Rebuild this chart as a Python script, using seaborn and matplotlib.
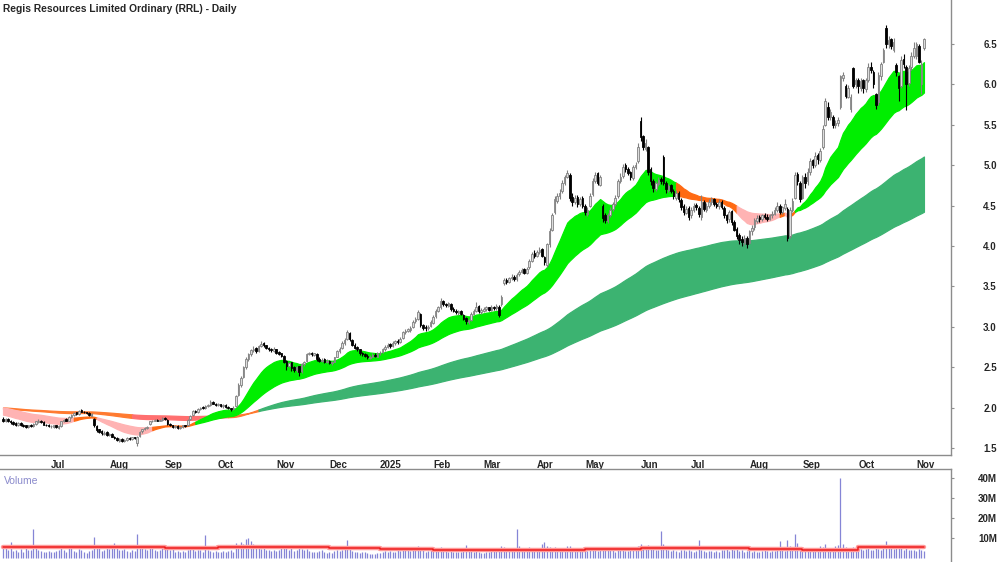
import numpy as np
import pandas as pd
import matplotlib
matplotlib.use("Agg")
import matplotlib.pyplot as plt
import seaborn as sns

# ---------------- data ----------------
title = "Regis Resources Limited Ordinary (RRL) - Daily"
start_date = "2024-06-03"
end_date = "2025-11-06"
asx_holidays = ["2024-06-10", "2024-12-25", "2024-12-26", "2025-01-01", "2025-01-27",
                "2025-04-18", "2025-04-21", "2025-04-25", "2025-06-09"]

opens = [
 1.86,1.83,1.86,1.84,1.82,1.81,1.78,1.81,1.79,1.78,1.76,1.79,1.77,1.80,1.82,1.84,1.82,1.79,1.79,
 1.77,1.76,1.78,1.75,1.77,1.83,1.86,1.84,1.88,1.91,1.94,1.92,1.97,1.95,1.94,1.93,1.90,1.86,1.77,1.73,1.71,1.67,1.70,
 1.66,1.67,1.64,1.62,1.59,1.61,1.59,1.60,1.62,1.61,1.63,1.56,1.65,1.71,1.73,1.75,1.80,1.83,1.84,1.85,1.84,1.85,
 1.87,1.85,1.80,1.78,1.76,1.77,1.75,1.76,1.78,1.78,1.86,1.91,1.96,1.94,1.98,2.01,1.99,2.02,2.03,2.07,2.05,
 2.03,2.04,2.02,2.03,2.01,1.99,1.98,2.02,2.16,2.28,2.38,2.50,2.60,2.66,2.71,2.74,2.70,2.76,2.80,2.77,2.74,2.72,2.70,
 2.72,2.69,2.67,2.64,2.58,2.51,2.56,2.50,2.46,2.51,2.45,2.54,2.58,2.66,2.68,2.65,2.66,2.60,2.58,2.60,2.56,
 2.58,2.55,2.57,2.63,2.70,2.74,2.80,2.85,2.92,2.84,2.78,2.75,2.72,2.67,2.66,2.64,2.61,2.63,2.65,2.63,
 2.67,2.69,2.72,2.75,2.79,2.76,2.80,2.83,2.81,2.86,2.93,2.95,2.96,3.00,3.07,3.10,3.16,3.02,3.00,2.98,3.01,
 3.05,3.13,3.20,3.24,3.32,3.28,3.26,3.28,3.22,3.20,3.17,3.20,3.15,3.11,3.06,3.09,3.16,3.20,3.26,3.18,
 3.20,3.22,3.24,3.21,3.25,3.23,3.25,3.28,3.54,3.58,3.56,3.60,3.62,3.59,3.65,3.68,3.71,3.67,3.74,3.82,3.91,
 3.88,3.92,3.96,3.86,3.76,4.02,4.20,4.42,4.56,4.62,4.68,4.78,4.86,4.88,4.61,4.54,4.61,4.52,4.59,
 4.50,4.40,4.50,4.64,4.80,4.90,4.76,4.50,4.38,4.31,4.38,4.46,4.52,4.62,4.80,4.87,5.00,4.95,4.91,4.84,4.98,5.05,
 5.55,5.36,5.20,5.22,4.95,4.80,4.70,4.77,4.83,5.10,4.78,4.69,4.75,4.68,4.60,4.66,4.57,4.50,4.41,4.47,
 4.38,4.44,4.51,4.47,4.36,4.55,4.45,4.50,4.54,4.58,4.52,4.49,4.55,4.47,4.38,4.33,4.43,4.30,4.21,4.13,4.09,4.04,4.10,
 4.04,4.18,4.23,4.31,4.36,4.33,4.38,4.36,4.34,4.38,4.40,4.44,4.50,4.42,4.47,4.46,4.12,4.44,4.60,4.89,4.78,
 4.60,4.86,4.80,4.92,5.06,5.00,5.13,5.06,5.22,5.50,5.72,5.60,5.60,5.50,5.52,5.72,6.08,5.98,5.85,5.70,6.20,6.00,
 6.05,5.96,6.05,5.94,6.06,6.22,6.15,5.88,5.78,6.10,6.28,6.70,6.50,6.56,6.42,6.24,6.10,5.98,6.32,6.22,6.02,6.22,6.35,
 6.35,6.48,6.00,6.45,
]
highs = [
 1.88,1.87,1.87,1.85,1.83,1.82,1.82,1.82,1.80,1.79,1.79,1.80,1.81,1.84,1.86,1.85,1.83,1.80,1.80,
 1.79,1.79,1.79,1.78,1.84,1.86,1.87,1.89,1.92,1.94,1.95,1.97,1.98,1.96,1.95,1.94,1.93,1.87,1.78,1.74,1.72,1.71,1.71,
 1.69,1.68,1.65,1.63,1.62,1.62,1.61,1.63,1.63,1.64,1.64,1.65,1.71,1.74,1.76,1.77,1.84,1.85,1.86,1.86,1.86,1.88,
 1.88,1.86,1.81,1.79,1.78,1.78,1.77,1.79,1.79,1.86,1.91,1.97,1.97,1.99,2.01,2.02,2.03,2.05,2.09,2.08,2.06,
 2.06,2.05,2.04,2.04,2.02,2.00,2.02,2.16,2.30,2.39,2.52,2.62,2.68,2.73,2.76,2.75,2.78,2.82,2.81,2.78,2.75,2.74,2.75,
 2.73,2.70,2.68,2.65,2.59,2.57,2.57,2.52,2.52,2.52,2.55,2.58,2.67,2.69,2.69,2.68,2.67,2.62,2.61,2.61,2.60,
 2.59,2.58,2.63,2.71,2.75,2.82,2.86,2.96,2.93,2.85,2.80,2.76,2.73,2.69,2.68,2.66,2.65,2.67,2.67,2.69,
 2.70,2.74,2.77,2.80,2.80,2.82,2.84,2.85,2.87,2.95,2.97,2.99,3.01,3.08,3.12,3.21,3.17,3.04,3.02,3.02,3.08,
 3.14,3.22,3.26,3.36,3.33,3.30,3.31,3.30,3.24,3.22,3.21,3.21,3.16,3.12,3.10,3.18,3.22,3.31,3.27,3.23,
 3.24,3.26,3.25,3.27,3.26,3.28,3.27,3.39,3.60,3.60,3.62,3.65,3.64,3.66,3.70,3.73,3.73,3.74,3.84,3.93,3.95,
 3.95,3.99,3.98,3.88,4.04,4.22,4.41,4.62,4.66,4.70,4.82,4.88,4.94,4.90,4.66,4.63,4.63,4.61,4.62,
 4.52,4.48,4.66,4.84,4.92,4.92,4.88,4.52,4.41,4.41,4.48,4.55,4.63,4.83,4.90,5.01,5.03,4.98,4.93,5.00,5.04,5.27,
 5.60,5.38,5.33,5.24,4.98,4.83,4.80,4.86,4.86,5.13,4.80,4.77,4.77,4.70,4.69,4.68,4.59,4.52,4.50,4.49,
 4.48,4.53,4.53,4.50,4.63,4.57,4.53,4.58,4.61,4.60,4.55,4.58,4.57,4.49,4.40,4.45,4.45,4.32,4.23,4.16,4.12,4.14,4.12,
 4.20,4.26,4.35,4.38,4.38,4.40,4.41,4.39,4.40,4.43,4.48,4.55,4.52,4.50,4.58,4.48,4.48,4.59,4.91,4.92,4.80,
 4.88,4.90,4.96,5.09,5.08,5.16,5.15,5.21,5.50,5.83,5.78,5.70,5.62,5.56,5.60,6.12,6.15,6.00,5.99,5.88,6.22,6.08,
 6.08,6.08,6.07,6.08,6.26,6.28,6.18,5.90,6.15,6.28,6.45,6.74,6.60,6.58,6.57,6.26,6.12,6.35,6.38,6.24,6.24,6.40,6.52,
 6.53,6.50,6.30,6.58,
]
lows = [
 1.82,1.82,1.82,1.80,1.79,1.77,1.77,1.77,1.76,1.75,1.75,1.76,1.76,1.79,1.81,1.81,1.78,1.77,1.76,
 1.75,1.75,1.75,1.74,1.76,1.82,1.83,1.83,1.87,1.90,1.91,1.91,1.94,1.93,1.92,1.90,1.89,1.76,1.70,1.68,1.66,1.66,1.65,
 1.65,1.63,1.61,1.59,1.58,1.58,1.58,1.59,1.60,1.60,1.61,1.53,1.64,1.69,1.72,1.74,1.79,1.82,1.83,1.83,1.83,1.84,
 1.85,1.79,1.77,1.75,1.75,1.74,1.74,1.75,1.76,1.77,1.85,1.90,1.93,1.93,1.97,1.98,1.98,2.01,2.02,2.04,2.02,
 2.02,2.01,2.00,2.00,1.98,1.96,1.97,2.01,2.14,2.26,2.36,2.48,2.58,2.64,2.69,2.68,2.69,2.75,2.75,2.72,2.70,2.69,2.69,
 2.66,2.65,2.62,2.55,2.47,2.50,2.45,2.44,2.44,2.39,2.43,2.52,2.57,2.65,2.64,2.64,2.58,2.56,2.56,2.55,2.55,
 2.54,2.53,2.56,2.62,2.68,2.72,2.78,2.84,2.83,2.76,2.72,2.70,2.65,2.64,2.62,2.60,2.60,2.62,2.62,2.62,
 2.65,2.67,2.70,2.74,2.74,2.75,2.78,2.79,2.80,2.85,2.91,2.93,2.94,2.99,3.05,3.08,3.00,2.96,2.95,2.96,3.00,
 3.03,3.11,3.18,3.22,3.26,3.25,3.24,3.20,3.18,3.16,3.15,3.14,3.08,3.04,3.04,3.07,3.14,3.18,3.17,3.16,
 3.18,3.20,3.19,3.20,3.21,3.21,3.12,3.26,3.52,3.53,3.54,3.58,3.57,3.57,3.63,3.66,3.65,3.65,3.72,3.80,3.85,
 3.86,3.90,3.86,3.76,3.74,3.99,4.18,4.40,4.53,4.58,4.66,4.75,4.84,4.56,4.50,4.52,4.48,4.49,4.47,
 4.38,4.37,4.48,4.62,4.78,4.76,4.74,4.30,4.28,4.28,4.36,4.43,4.50,4.60,4.78,4.84,4.92,4.88,4.82,4.82,4.95,5.03,
 5.30,5.19,5.17,4.88,4.76,4.67,4.68,4.74,4.77,4.75,4.66,4.67,4.65,4.58,4.57,4.55,4.45,4.38,4.39,4.32,
 4.35,4.42,4.45,4.36,4.32,4.43,4.42,4.47,4.51,4.50,4.47,4.46,4.46,4.35,4.28,4.30,4.26,4.18,4.09,4.02,4.00,4.01,3.98,
 4.02,4.14,4.20,4.29,4.30,4.31,4.33,4.31,4.32,4.35,4.38,4.42,4.39,4.40,4.45,4.06,4.10,4.42,4.58,4.76,4.54,
 4.58,4.72,4.76,4.88,4.96,4.98,5.02,5.04,5.20,5.48,5.56,5.56,5.46,5.46,5.48,5.70,6.04,5.83,5.83,5.66,5.95,5.96,
 5.90,5.92,5.90,5.91,6.03,6.14,5.95,5.70,5.75,6.06,6.26,6.45,6.45,6.44,6.40,6.10,5.80,5.95,6.20,5.68,5.98,6.18,6.33,
 6.32,6.26,5.88,6.43,
]
closes = [
 1.84,1.86,1.83,1.82,1.80,1.79,1.81,1.78,1.77,1.76,1.78,1.77,1.80,1.83,1.84,1.82,1.79,1.78,1.77,
 1.77,1.78,1.76,1.77,1.83,1.85,1.84,1.88,1.91,1.93,1.92,1.96,1.95,1.94,1.93,1.91,1.92,1.78,1.72,1.70,1.68,1.69,1.66,
 1.67,1.64,1.62,1.60,1.61,1.59,1.60,1.62,1.61,1.63,1.62,1.64,1.70,1.73,1.75,1.76,1.83,1.84,1.85,1.84,1.85,1.87,
 1.86,1.80,1.78,1.76,1.77,1.75,1.76,1.78,1.77,1.85,1.90,1.96,1.94,1.98,2.00,1.99,2.02,2.03,2.07,2.05,2.03,
 2.04,2.02,2.03,2.01,1.99,1.98,2.00,2.14,2.28,2.36,2.50,2.60,2.66,2.71,2.73,2.70,2.76,2.79,2.77,2.74,2.72,2.71,2.73,
 2.68,2.66,2.64,2.57,2.52,2.55,2.49,2.46,2.50,2.44,2.54,2.56,2.66,2.67,2.66,2.67,2.60,2.58,2.59,2.57,2.58,
 2.55,2.56,2.62,2.70,2.73,2.80,2.84,2.93,2.85,2.78,2.74,2.72,2.67,2.66,2.64,2.62,2.63,2.65,2.64,2.67,
 2.68,2.72,2.75,2.78,2.76,2.80,2.82,2.81,2.85,2.93,2.95,2.97,2.99,3.06,3.10,3.18,3.02,2.99,2.98,3.00,3.06,
 3.12,3.20,3.24,3.32,3.28,3.27,3.29,3.22,3.20,3.18,3.19,3.16,3.10,3.07,3.08,3.16,3.20,3.25,3.19,3.21,
 3.22,3.24,3.21,3.25,3.23,3.26,3.15,3.37,3.58,3.56,3.60,3.62,3.59,3.64,3.68,3.70,3.67,3.72,3.82,3.90,3.88,
 3.92,3.95,3.88,3.80,4.02,4.18,4.38,4.58,4.62,4.66,4.78,4.85,4.90,4.60,4.55,4.60,4.52,4.58,4.50,
 4.42,4.45,4.62,4.80,4.88,4.78,4.85,4.35,4.32,4.38,4.45,4.52,4.60,4.80,4.86,4.98,4.95,4.90,4.85,4.98,5.00,5.22,
 5.35,5.22,5.28,4.92,4.80,4.72,4.78,4.82,4.80,4.78,4.70,4.74,4.68,4.62,4.66,4.58,4.48,4.42,4.46,4.36,
 4.45,4.50,4.48,4.40,4.55,4.46,4.50,4.55,4.58,4.52,4.50,4.55,4.48,4.38,4.32,4.42,4.30,4.20,4.12,4.08,4.05,4.10,4.03,
 4.18,4.22,4.32,4.35,4.33,4.38,4.36,4.34,4.38,4.40,4.45,4.50,4.42,4.48,4.52,4.10,4.45,4.56,4.88,4.80,4.58,
 4.85,4.78,4.92,5.05,5.00,5.12,5.08,5.18,5.45,5.80,5.60,5.66,5.50,5.52,5.56,6.10,6.12,5.86,5.95,5.85,5.98,6.05,
 5.98,6.04,5.95,6.05,6.22,6.18,6.00,5.75,6.12,6.25,6.42,6.50,6.55,6.48,6.52,6.15,5.95,6.30,6.25,6.00,6.20,6.35,6.45,
 6.50,6.28,6.25,6.56,
]
volume_m = [
 5.5,6.0,4.2,8.0,3.5,4.0,3.2,4.5,3.0,5.0,3.8,4.2,14.5,6.5,4.0,3.5,3.0,2.8,3.6,
 3.2,2.8,3.5,4.0,5.5,4.2,3.0,4.8,5.2,3.6,3.1,4.5,3.8,3.0,2.6,3.3,4.0,10.5,6.0,4.8,3.5,4.2,5.0,
 4.5,6.5,7.5,5.0,4.2,3.8,4.6,3.5,3.0,4.1,3.6,12.0,6.2,5.0,4.4,3.8,5.5,4.8,4.0,3.6,4.2,5.1,
 4.4,5.0,3.9,4.5,3.2,3.6,3.0,3.4,2.8,4.0,5.8,4.6,3.5,4.2,3.8,3.1,11.5,4.0,3.5,3.0,3.3,
 2.8,3.2,3.5,2.9,3.6,4.0,3.1,7.5,6.5,8.0,7.0,9.5,10.0,8.5,6.8,5.5,6.0,4.5,5.2,3.9,4.1,3.5,3.8,
 3.6,4.0,5.5,6.2,4.8,4.0,5.0,3.6,4.2,5.5,4.4,3.8,4.6,3.5,3.0,2.8,3.2,3.6,4.1,3.0,2.7,
 3.0,2.6,3.4,4.0,3.6,4.2,5.0,8.8,4.6,3.5,3.2,3.0,2.5,2.8,3.1,2.4,1.8,2.2,2.0,2.6,
 2.5,3.0,3.4,2.8,3.6,3.2,2.9,4.0,3.5,4.8,5.6,4.2,3.6,4.5,5.0,5.8,4.4,3.8,3.2,3.5,4.0,
 4.6,3.8,4.2,5.5,3.9,3.4,3.0,3.6,3.2,2.8,3.1,2.9,4.0,6.5,3.8,3.4,2.9,3.3,3.0,2.6,
 2.5,2.8,3.2,3.8,4.1,3.6,4.5,6.0,5.5,4.2,3.8,5.0,4.0,14.5,6.0,4.5,3.5,3.8,5.5,4.6,4.0,
 4.4,5.0,6.8,7.8,6.2,5.5,4.8,5.6,4.2,3.9,5.2,4.5,6.0,5.8,4.4,3.8,4.6,4.0,3.5,
 4.2,3.6,4.5,5.0,4.0,3.5,3.8,5.2,4.4,3.9,4.6,3.8,3.2,4.5,3.9,4.2,3.6,3.3,3.8,4.4,5.0,5.8,
 7.2,6.0,5.0,6.4,5.5,4.8,4.2,4.0,13.5,6.8,4.5,3.8,3.5,4.0,3.6,3.2,3.9,4.2,3.4,3.8,
 3.5,3.0,3.6,8.8,4.0,3.4,3.1,3.6,3.3,2.9,3.5,3.2,3.8,4.2,5.0,3.6,4.4,3.8,4.6,3.4,3.9,3.1,3.6,
 3.8,3.2,3.6,3.0,2.8,3.5,4.0,3.3,3.1,3.6,3.4,4.0,8.5,3.8,3.5,9.0,6.0,4.8,12.0,7.5,5.6,
 4.6,4.0,5.0,4.4,3.8,4.5,5.2,6.0,5.5,6.8,5.0,4.6,4.2,5.8,6.6,40.0,7.2,5.5,4.8,5.0,5.4,4.4,
 4.2,4.6,3.9,4.4,5.0,4.1,3.8,5.5,4.6,4.2,5.0,8.6,6.2,5.0,4.4,5.8,6.6,4.8,4.2,5.4,4.0,3.8,4.2,
 3.6,4.4,3.8,3.4,
]
# average volume per calendar month (Jun 2024 .. Nov 2025), millions
volume_avg_month = [5.6, 5.6, 5.4, 5.0, 5.4, 5.4, 5.1, 4.5, 4.1, 3.9, 4.1, 4.5, 4.9, 4.9, 4.5, 4.1, 5.4, 5.6]

# moving-average ribbons: periods and their values just before the first bar
short_periods = [18, 22, 27, 32, 38, 48]
short_seeds = [1.92, 1.95, 1.97, 1.99, 2.00, 2.01]
long_periods = [135, 150, 170, 190, 215, 250]
long_seeds = [1.995, 2.005, 1.99, 2.0, 1.985, 1.99]

price_ticks = [1.5, 2.0, 2.5, 3.0, 3.5, 4.0, 4.5, 5.0, 5.5, 6.0, 6.5]
volume_ticks = [10, 20, 30, 40]
volume_tick_labels = ["10M", "20M", "30M", "40M"]

# ---------------- build ----------------
dates = pd.bdate_range(start_date, end_date)
dates = dates[~dates.isin(pd.to_datetime(asx_holidays))]
n = len(dates)
for name, arr in [("opens", opens), ("highs", highs), ("lows", lows),
                  ("closes", closes), ("volume_m", volume_m)]:
    if len(arr) != n:
        raise SystemExit(f"{name} has {len(arr)} values, expected {n}")

df = pd.DataFrame({"date": dates, "open": opens, "high": highs, "low": lows,
                   "close": closes, "volume": volume_m})
df["x"] = np.arange(n)
o = df["open"].to_numpy(); c = df["close"].to_numpy()
h = df["high"].to_numpy(); l = df["low"].to_numpy()
x = df["x"].to_numpy()


def ema(values, period, seed):
    a = 2.0 / (period + 1.0)
    e = seed
    out = []
    for v in values:
        e = e + a * (v - e)
        out.append(e)
    return np.array(out)


short = np.vstack([ema(c, p, s) for p, s in zip(short_periods, short_seeds)])
long_ = np.vstack([ema(c, p, s) for p, s in zip(long_periods, long_seeds)])


def ribbon_state(group):
    d = np.diff(group, axis=0)
    up = np.all(d < 0, axis=0)     # fastest on top
    down = np.all(d > 0, axis=0)   # fastest at bottom
    return np.where(up, 1, np.where(down, -1, 0))


# ---------------- figure ----------------
sns.set_theme(style="white")
plt.rcParams["font.family"] = ["Liberation Sans", "DejaVu Sans"]
fig = plt.figure(figsize=(10, 5.62), dpi=100)
ax = fig.add_axes([0.0, 1 - 455 / 562, 0.951, 455 / 562])
axv = fig.add_axes([0.0, 0.0, 0.951, (562 - 469) / 562], sharex=ax)
for a_ in (ax, axv):
    a_.set_facecolor("white")


def draw_ribbon(axis, group, colors):
    lo = group.min(axis=0)
    hi = group.max(axis=0)
    st = ribbon_state(group)
    i = 0
    while i < n:
        j = i
        while j + 1 < n and st[j + 1] == st[i]:
            j += 1
        a0 = max(i - 1, 0)
        sl = slice(a0, j + 1)
        col = colors[st[i]]
        axis.fill_between(x[sl], lo[sl], hi[sl], color=col, lw=0.9, edgecolor=col, zorder=2)
        i = j + 1


draw_ribbon(ax, long_, {1: "#3cb371", -1: "#ff6f6f", 0: "#ff7a30"})
draw_ribbon(ax, short, {1: "#00ee00", -1: "#ffb3b3", 0: "#ff6a13"})

# candles
up = c >= o
wick_col = np.where(up, "#808080", "#000000")
ax.vlines(x, l, h, colors=wick_col, lw=0.8, zorder=3)
body_b = np.minimum(o, c)
body_h = np.maximum(np.abs(c - o), 0.006)
ax.bar(x[up], body_h[up], bottom=body_b[up], width=0.62, color="#dcdcdc",
       edgecolor="#808080", lw=0.6, zorder=4)
ax.bar(x[~up], body_h[~up], bottom=body_b[~up], width=0.62, color="#000000",
       edgecolor="#000000", lw=0.6, zorder=4)

ax.set_xlim(-1.2, 374.7)
ax.set_ylim(1.413, 7.045)

# volume
axv.vlines(x, 0, df["volume"], colors="#8585d6", lw=0.9, zorder=2)
month_first = df.groupby(df["date"].dt.to_period("M"))["x"].min().to_numpy()
step_x = list(month_first) + [n - 1]
step_y = list(volume_avg_month) + [volume_avg_month[-1]]
sns.lineplot(x=step_x, y=step_y, ax=axv, color="#ff9a9a", lw=3.2, drawstyle="steps-post",
             estimator=None, sort=False, zorder=3)
sns.lineplot(x=step_x, y=step_y, ax=axv, color="#ee1c1c", lw=1.1, drawstyle="steps-post",
             estimator=None, sort=False, zorder=4)
axv.set_ylim(-2, 44.5)
axv.set_xlabel(""); axv.set_ylabel("")
axv.text(0.004, 0.93, "Volume", transform=axv.transAxes, ha="left", va="top",
         fontsize=7.5, color="#8a8acc")

# month ticks
labels = []
pos = []
for xi in month_first[1:]:
    d = dates[xi]
    pos.append(xi)
    labels.append(str(d.year) if d.month == 1 else d.strftime("%b"))
ax.set_xticks(pos)
ax.set_xticklabels(labels, fontsize=7, fontweight="bold")
ax.tick_params(axis="x", direction="out", length=2.5, width=0.8, color="#909090", pad=1)
for t in ax.get_xticklabels():
    t.set_ha("left")
plt.setp(axv.get_xticklabels(), visible=False)
axv.tick_params(axis="x", length=0)

# y axes on right
for a_, ticks, labs in ((ax, price_ticks, [f"{t:.1f}" for t in price_ticks]),
                        (axv, volume_ticks, volume_tick_labels)):
    a_.yaxis.tick_right()
    a_.set_yticks(ticks)
    a_.set_yticklabels(labs, fontsize=7, fontweight="bold")
    a_.tick_params(axis="y", direction="out", length=2, width=0.8, color="#909090", pad=31)
    for t in a_.get_yticklabels():
        t.set_ha("right")
    for s in ("left", "top", "bottom", "right"):
        a_.spines[s].set_visible(False)
    a_.spines["right"].set_visible(True)
    a_.spines["right"].set_color("#8c8c8c")
    a_.spines["right"].set_linewidth(1.0)
    a_.grid(False)

ax.spines["bottom"].set_visible(True)
ax.spines["bottom"].set_color("#8c8c8c")
ax.spines["bottom"].set_linewidth(1.0)
axv.spines["top"].set_visible(True)
axv.spines["top"].set_color("#8c8c8c")
axv.spines["top"].set_linewidth(1.0)

fig.text(0.003, 0.993, title, ha="left", va="top", fontsize=7.4, fontweight="bold")

fig.savefig("out.png", dpi=100, facecolor="white")
